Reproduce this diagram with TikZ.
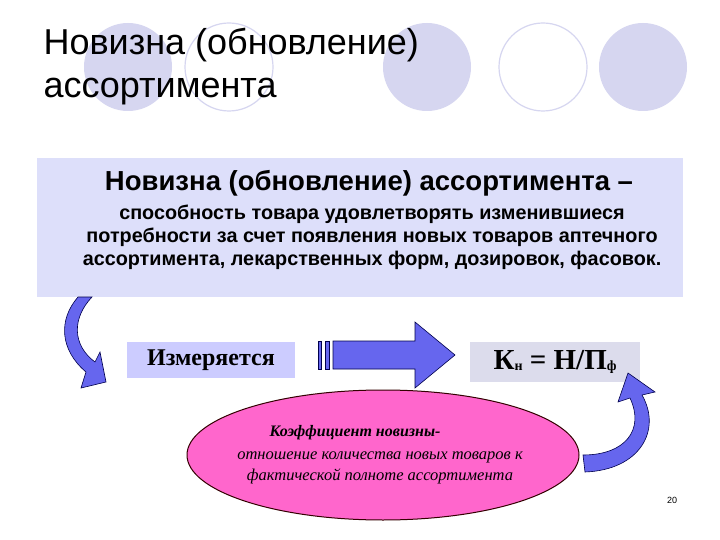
\documentclass[tikz,border=0pt]{standalone}
\usepackage{fontspec}
\setmainfont{Liberation Serif}
\newfontfamily\sansf{Liberation Sans}
\usetikzlibrary{shapes.geometric}
\definecolor{lav}{RGB}{214,214,240}
\definecolor{boxbg}{RGB}{221,223,250}
\definecolor{meas}{RGB}{204,204,255}
\definecolor{formula}{RGB}{220,220,236}
\definecolor{arrb}{RGB}{102,102,238}
\definecolor{pinkf}{RGB}{255,102,204}
\tikzset{
 deco/.style={ellipse, minimum width=88pt, minimum height=88pt},
 arrowshape/.style={fill=arrb, draw=black!70!blue, line width=0.6pt},
}
\begin{document}
\begin{tikzpicture}[x=1pt,y=-1pt]
\useasboundingbox (0,0) rectangle (720,540);
\fill[white] (0,0) rectangle (720,540);
% decorative circles
\node[deco, fill=lav] (c1) at (128,67) {};
\node[deco, draw=lav, line width=1.2pt] (c2) at (229,67) {};
\node[deco, fill=lav] (c3) at (427,67) {};
\node[deco, draw=lav, line width=1.2pt] (c4) at (543,67) {};
\node[deco, fill=lav] (c5) at (643,67) {};
% title
\node[anchor=west, font=\sansf\fontsize{36}{43}\selectfont, align=left] (title) at (40,67) {Новизна (обновление)\\ассортимента};
% box
\node[fill=boxbg, minimum width=646pt, minimum height=139pt, anchor=north west] (box) at (37,158) {};
\node[font=\sansf\bfseries\fontsize{27.5}{30}\selectfont] (bt) at (369,183) {Новизна (обновление) ассортимента –};
\node[font=\sansf\bfseries\fontsize{19.8}{23}\selectfont, align=center] (bx) at (372,237) {способность товара удовлетворять изменившиеся\\потребности за счет появления новых товаров аптечного\\ассортимента, лекарственных форм, дозировок, фасовок.};
% measured box
\node[fill=meas, minimum width=168pt, minimum height=36pt, font=\bfseries\fontsize{24}{26}\selectfont] (m) at (211,360) {Измеряется};
\node[fill=formula, minimum width=170pt, minimum height=40pt, font=\bfseries\fontsize{29}{30}\selectfont] (f) at (555,362) {К\raisebox{-0.1ex}{\fontsize{14}{14}\selectfont н} = Н/П\raisebox{-0.1ex}{\fontsize{14}{14}\selectfont ф}};
% striped arrow
\draw[arrowshape] (318,341) rectangle (321,369);
\draw[arrowshape] (325,341) rectangle (329,369);
\draw[arrowshape] (333,341) -- (415,341) -- (415,322) -- (455,355) -- (415,388) -- (415,369) -- (333,369) -- cycle;
% ellipse
\node[ellipse, fill=pinkf, draw=black!80!red, line width=1pt, minimum width=392pt, minimum height=130pt] (e) at (383,455) {};
\node[font=\bfseries\itshape\fontsize{16}{20}\selectfont] (et) at (355,433) {Коэффициент новизны-};
\node[font=\itshape\fontsize{16.5}{21}\selectfont, align=center] (eb) at (380,468) {отношение количества новых товаров к\\фактической полноте ассортимента};
% left curved arrow
\draw[arrowshape] (78,297) .. controls (58,320) and (60,350) .. (86,372) -- (81,388) -- (106,382) -- (100,352) -- (95,362) .. controls (72,345) and (72,318) .. (92,297) -- cycle;
% right curved arrow
\draw[arrowshape] (585,472) .. controls (640,470) and (662,430) .. (642,395) -- (655,392) -- (628,373) -- (618,402) -- (630,398) .. controls (645,430) and (625,455) .. (583,455) -- cycle;
% page number
\node[font=\sansf\fontsize{9}{10}\selectfont] (pn) at (672,500) {20};
\end{tikzpicture}
\end{document}
